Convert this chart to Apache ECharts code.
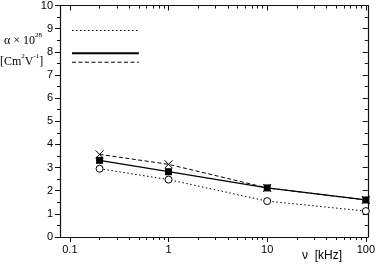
<!DOCTYPE html>
<html><head><meta charset="utf-8">
<script src="https://cdn.jsdelivr.net/npm/echarts@6/dist/echarts.min.js"></script>
<style>html,body{margin:0;padding:0;background:#fff}#c{width:378px;height:266px}</style>
</head><body><div id="c"></div>
<script>
// Data (frequency in kHz, alpha in 1e-28 C m^2 V^-1)
const freq = [0.2, 1, 10, 100];
const alphaSolid = [3.31, 2.82, 2.12, 1.60];
const alphaDashed = [3.57, 3.14, 2.12, 1.60];
const alphaDotted = [2.95, 2.48, 1.55, 1.12];
const xTickValues = [0.1, 1, 10, 100];
const xTickLabels = ['0.1', '1', '10', '100'];
const xMinorMultipliers = [2, 3, 4, 5, 6, 7, 8, 9];
// key (legend) sample lines: y-values for dotted, solid, dashed; x extent
const keyY = { dotted: 8.92, solid: 7.94, dashed: 7.55 };
const keyX = [0.105, 0.5];

const lg = v => Math.log10(v);
const xMin = lg(0.0794), xMax = lg(104.7);
const majorLog = xTickValues.map(lg);
const minorLog = [];
[0.1, 1, 10].forEach(d => xMinorMultipliers.forEach(k => minorLog.push(lg(d * k))));
const labelFor = v => {
  const i = majorLog.findIndex(m => Math.abs(m - v) < 1e-6);
  return i >= 0 ? xTickLabels[i] : '';
};
const pts = ys => freq.map((f, i) => [lg(f), ys[i]]);
const keyPts = y => keyX.map(x => [lg(x), y]);

const lineCol = '#111';
const tickCol = '#111';
const mkX = (pos, major, inside, showLine) => ({
  type: 'value', min: xMin, max: xMax, position: pos, splitLine: { show: false },
  axisLine: { show: showLine, onZero: false, lineStyle: { color: lineCol, width: 1.2 } },
  axisTick: { show: true, inside: inside, length: major ? 5 : 3, customValues: major ? majorLog : minorLog,
    lineStyle: { color: tickCol, width: 1 } },
  axisLabel: (major && pos === 'bottom') ? { show: true, customValues: majorLog, formatter: labelFor, margin: 7,
      color: '#000', fontFamily: 'Liberation Sans, Arial', fontSize: 11 } : { show: false }
});
const mkY = (pos, inside) => ({
  type: 'value', min: 0, max: 10, interval: 1, position: pos, splitLine: { show: false },
  axisLine: { show: true, onZero: false, lineStyle: { color: lineCol, width: 1.2 } },
  axisTick: { show: true, inside: inside, length: 5, lineStyle: { color: tickCol, width: 1 } },
  minorTick: { show: true, splitNumber: 2, length: 3, lineStyle: { color: tickCol, width: 1 } },
  axisLabel: pos === 'left' ? { show: true, margin: 7, color: '#000', fontFamily: 'Liberation Sans, Arial', fontSize: 11 } : { show: false }
});

const crossPath = 'path://M0,0L10,10M10,0L0,10';
const serif = 'Liberation Serif, Times New Roman, serif';
const option = {
  animation: false,
  backgroundColor: '#fff',
  grid: { left: 60, right: 7, top: 5, bottom: 29 },
  xAxis: [mkX('bottom', true, false, true), mkX('bottom', false, false, false), mkX('top', true, true, true), mkX('top', false, true, false)],
  yAxis: [mkY('left', false), mkY('right', true)],
  series: [
    { type: 'line', data: pts(alphaDotted), symbol: 'circle', symbolSize: 7,
      lineStyle: { color: '#000', width: 1, type: [1.5, 2.5] },
      itemStyle: { color: '#fff', borderColor: '#000', borderWidth: 1 }, z: 2 },
    { type: 'line', data: pts(alphaDashed), symbol: crossPath, symbolSize: 8,
      lineStyle: { color: '#000', width: 1, type: [4, 2.5] },
      itemStyle: { color: 'none', borderColor: '#000', borderWidth: 1 }, z: 3 },
    { type: 'line', data: pts(alphaSolid), symbol: 'rect', symbolSize: 7,
      lineStyle: { color: '#000', width: 1.2 },
      itemStyle: { color: '#000', borderColor: '#000', borderWidth: 0 }, z: 4 },
    { type: 'line', data: keyPts(keyY.dotted), symbol: 'none',
      lineStyle: { color: '#000', width: 1, type: [1.5, 2.5] } },
    { type: 'line', data: keyPts(keyY.solid), symbol: 'none',
      lineStyle: { color: '#000', width: 2 } },
    { type: 'line', data: keyPts(keyY.dashed), symbol: 'none',
      lineStyle: { color: '#000', width: 1, type: [4, 2.5] } }
  ],
  graphic: [
    { type: 'text', left: 4, top: 32, style: {
      text: '{a|α × 10}{s|28}',
      rich: {
        a: { fontFamily: serif, fontSize: 12, fill: '#000', lineHeight: 15, verticalAlign: 'bottom' },
        s: { fontFamily: serif, fontSize: 7, fill: '#000', lineHeight: 15, verticalAlign: 'top' }
      } } },
    { type: 'text', left: 0, top: 53, style: {
      text: '{a|[Cm}{s|2}{a|V}{s|-1}{a|]}',
      rich: {
        a: { fontFamily: serif, fontSize: 12, fill: '#000', lineHeight: 15, verticalAlign: 'bottom' },
        s: { fontFamily: serif, fontSize: 7, fill: '#000', lineHeight: 15, verticalAlign: 'top' }
      } } },
    { type: 'text', left: 302, top: 250, style: {
      text: 'ν  [kHz]', fontFamily: 'Liberation Sans, Arial', fontSize: 12, fill: '#000' } }
  ]
};
echarts.init(document.getElementById('c'), null, { renderer: 'canvas' }).setOption(option);
</script>
</body></html>
